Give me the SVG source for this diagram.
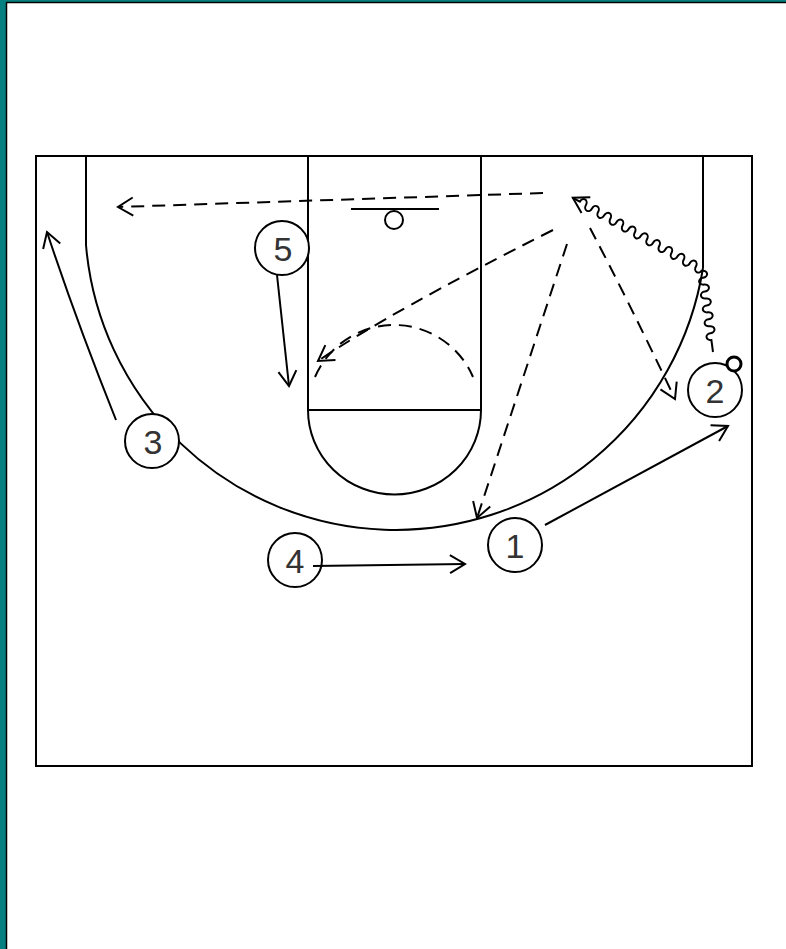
<svg xmlns="http://www.w3.org/2000/svg" width="786" height="949" viewBox="0 0 786 949">
<style>
.ln{fill:none;stroke:#000;stroke-width:2}
.ds{fill:none;stroke:#000;stroke-width:2;stroke-dasharray:13 8}
.pc{fill:#fff;stroke:#000;stroke-width:2}
.pt{font-family:"Liberation Sans",Arial,sans-serif;font-size:34px;fill:#333;text-anchor:middle}
</style>
<defs>
<marker id="ah" viewBox="-17 -11 20 22" refX="0" refY="0" markerWidth="20" markerHeight="22" orient="auto" markerUnits="userSpaceOnUse">
<path d="M-15 -9 L0 0 L-15 9" fill="none" stroke="#000" stroke-width="2" stroke-dasharray="none"/>
</marker>
</defs>
<rect x="0" y="0" width="786" height="949" fill="#058080"/>
<rect x="6.5" y="2.5" width="781" height="948" fill="#fff" stroke="#000" stroke-width="1.5"/>
<g id="court">
<rect x="36" y="156" width="716" height="610" class="ln" stroke-width="2.5"/>
<line x1="308" y1="156" x2="308" y2="410" class="ln"/>
<line x1="481" y1="156" x2="481" y2="410" class="ln"/>
<line x1="308" y1="410" x2="481" y2="410" class="ln"/>
<path d="M308 410 A86 84 0 0 0 481 410" class="ln"/>
<path d="M315 377 A86 86 0 0 1 473 377" class="ds" stroke-dasharray="16 12"/>
<line x1="86" y1="156" x2="86" y2="245" class="ln"/>
<line x1="703" y1="156" x2="703" y2="268" class="ln"/>
<path d="M86 245 A311 311 0 0 0 703 268" class="ln"/>
<line x1="351" y1="209" x2="439" y2="209" class="ln"/>
<circle cx="394" cy="220" r="9" class="ln"/>
</g>
<g id="connectors">
<path d="M543 193 L118 207" class="ds" marker-end="url(#ah)"/>
<path d="M553 230 Q390 312 318 361" class="ds" marker-end="url(#ah)"/>
<path d="M567 244 L477 518" class="ds" marker-end="url(#ah)"/>
<path d="M590 228 Q628 300 675 399" class="ds" marker-end="url(#ah)"/>
<path transform="translate(713,352) rotate(262.4)" class="ln" d="M0 0 l12 0 a3.5 4.5 0 0 1 7 0 a3.5 4.5 0 0 0 7 0 a3.5 4.5 0 0 1 7 0 a3.5 4.5 0 0 0 7 0 a3.5 4.5 0 0 1 7 0 a3.5 4.5 0 0 0 7 0 a3.5 4.5 0 0 1 7 0 a3.5 4.5 0 0 0 7 0 a3.5 4.5 0 0 1 7 0 a3.5 4.5 0 0 0 7 0"/>
<path transform="translate(702,270) rotate(209.2)" class="ln" marker-end="url(#ah)" d="M0 0 a3.5 4.5 0 0 1 7 0 a3.5 4.5 0 0 0 7 0 a3.5 4.5 0 0 1 7 0 a3.5 4.5 0 0 0 7 0 a3.5 4.5 0 0 1 7 0 a3.5 4.5 0 0 0 7 0 a3.5 4.5 0 0 1 7 0 a3.5 4.5 0 0 0 7 0 a3.5 4.5 0 0 1 7 0 a3.5 4.5 0 0 0 7 0 a3.5 4.5 0 0 1 7 0 a3.5 4.5 0 0 0 7 0 a3.5 4.5 0 0 1 7 0 a3.5 4.5 0 0 0 7 0 a3.5 4.5 0 0 1 7 0 a3.5 4.5 0 0 0 7 0 a3.5 4.5 0 0 1 7 0 a3.5 4.5 0 0 0 7 0 a3.5 4.5 0 0 1 7 0 a3.5 4.5 0 0 0 7 0 l8 0"/>
<path d="M277 275 L289 386" class="ln" marker-end="url(#ah)"/>
<path d="M116 420 Q76 320 47 232" class="ln" marker-end="url(#ah)"/>
<path d="M313 566 L465 564" class="ln" marker-end="url(#ah)"/>
<path d="M545 525 L728 426" class="ln" marker-end="url(#ah)"/>
</g>
<g id="p5"><circle cx="282" cy="248" r="27" class="pc"/><text x="283" y="261" class="pt">5</text></g>
<g id="p3"><circle cx="152" cy="441" r="27" class="pc"/><text x="153" y="454" class="pt">3</text></g>
<g id="p4"><circle cx="295" cy="560" r="27" class="pc" style="fill:none"/><text x="295" y="573" class="pt">4</text></g>
<g id="p1"><circle cx="515" cy="545" r="27" class="pc"/><text x="515" y="558" class="pt">1</text></g>
<g id="p2"><circle cx="715" cy="390" r="27" class="pc"/><text x="715" y="403" class="pt">2</text><circle cx="734" cy="364" r="7" fill="#fff" stroke="#000" stroke-width="3"/></g>
</svg>
